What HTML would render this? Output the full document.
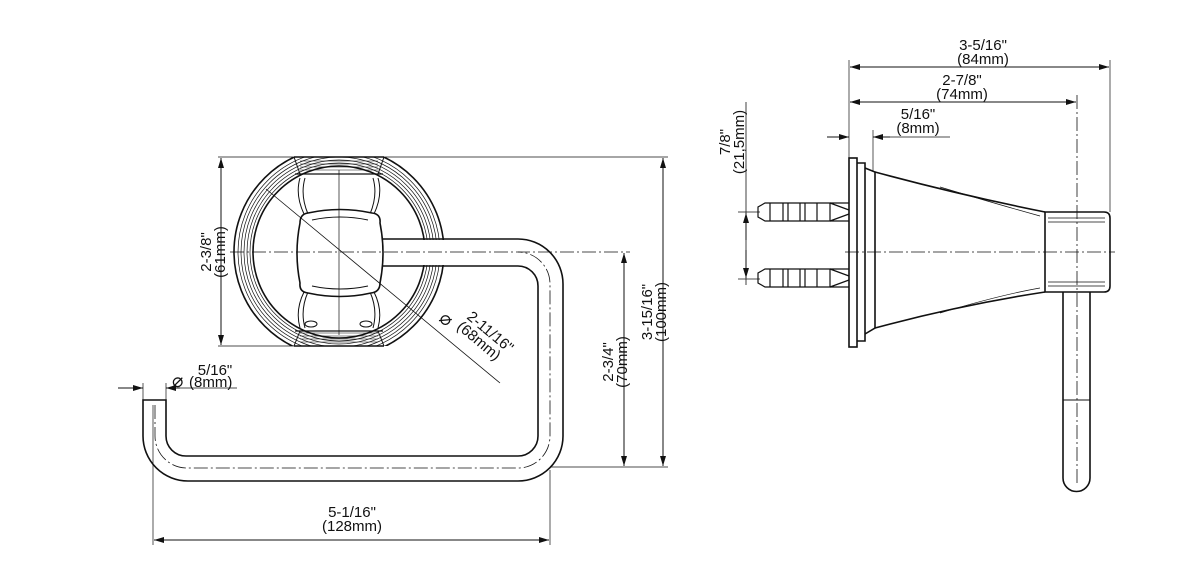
<!DOCTYPE html>
<html><head><meta charset="utf-8"><style>
html,body{margin:0;padding:0;background:#fff;width:1200px;height:576px;overflow:hidden}
svg text{font-family:"Liberation Sans",sans-serif;font-size:15px;fill:#111}
svg text.d{font-size:19px}
</style></head><body>
<svg width="1200" height="576" viewBox="0 0 1200 576" xmlns="http://www.w3.org/2000/svg">
<defs>
<marker id="a" viewBox="0 0 10 6" refX="10" refY="3" markerWidth="10" markerHeight="6" orient="auto-start-reverse" markerUnits="userSpaceOnUse"><path d="M0,0L10,3L0,6Z" fill="#111"/></marker>
<clipPath id="pc"><rect x="220" y="157" width="240" height="189"/></clipPath>
</defs>
<g fill="none" stroke="#111" stroke-width="1">
<!-- ring / towel bar -->
<path d="M380,239 H518 A45,45 0 0 1 563,284 V436 A45,45 0 0 1 518,481 H188 A45,45 0 0 1 143,436 V400 H166 V436 A20,20 0 0 0 186,456 H518 A20,20 0 0 0 538,436 V286 A20,20 0 0 0 518,266 H380" stroke-width="1.6"/>
<path d="M155,405 V436 A32,32 0 0 0 187,468 H518 A32,32 0 0 0 550,436 V284 A32,32 0 0 0 518,252" stroke-dasharray="14,3,2,3" stroke-width="0.8"/>
<!-- plate -->
<g clip-path="url(#pc)">
<circle cx="339" cy="252" r="105" stroke-width="1.6"/>
<circle cx="339" cy="252" r="101" stroke-width="0.7"/>
<circle cx="339" cy="252" r="98" stroke-width="0.7"/>
<circle cx="339" cy="252" r="95" stroke-width="0.7"/>
<circle cx="339" cy="252" r="92" stroke-width="0.7"/>
<circle cx="339" cy="252" r="89" stroke-width="0.7"/>
<circle cx="339" cy="252" r="86" stroke-width="1.6"/>
</g>
<rect x="381" y="240" width="64" height="25" fill="#fff" stroke="none"/>
<line x1="294" y1="157" x2="384" y2="157" stroke-width="1.6"/>
<line x1="294" y1="346" x2="384" y2="346" stroke-width="1.6"/>
<path d="M300,161 H378 M300,164 H378 M300,167 H378 M300,170 H378 M300,339 H378 M300,336 H378 M300,333 H378 M300,342 H378" stroke-width="0.6"/>
<path d="M295,174 H383 M295,331 H383" stroke-width="1.2"/>
<path d="M294,157 L300,174 M384,157 L378,174 M294,346 L300,331 M384,346 L378,331" stroke-width="1"/>
<!-- spokes -->
<path d="M300,178 Q295,195 304,214 M305,178 Q300,195 308,214 M378,178 Q383,195 374,214 M373,178 Q378,195 370,214"/>
<path d="M300,328 Q295,310 304,292 M305,328 Q300,310 308,292 M378,328 Q383,310 374,292 M373,328 Q378,310 370,292"/>
<ellipse cx="311" cy="324" rx="6" ry="3"/><ellipse cx="366" cy="324" rx="6" ry="3"/>
<!-- center square -->
<path d="M308,213 Q340,206 372,213 Q381,214 380,223 Q386,253 380,283 Q380,292 371,293 Q340,300 308,293 Q299,292 300,283 Q294,253 300,223 Q300,214 308,213Z" fill="#fff" stroke-width="1.6"/>
<path d="M312,220 Q340,214 368,220 M312,286 Q340,292 368,286"/>
<!-- center lines -->
<line x1="339" y1="170" x2="339" y2="335" stroke-width="0.7"/>
<line x1="230" y1="252" x2="630" y2="252" stroke-dasharray="14,3,2,3" stroke-width="0.8"/>
<line x1="266" y1="189" x2="500" y2="383" stroke-width="0.8"/>
<!-- dims -->
<line x1="218" y1="157" x2="668" y2="157" stroke-width="0.7"/>
<line x1="218" y1="346" x2="300" y2="346" stroke-width="0.7"/>
<line x1="221" y1="158" x2="221" y2="345" marker-start="url(#a)" marker-end="url(#a)"/>
<line x1="550" y1="467" x2="668" y2="467" stroke-width="0.7"/>
<line x1="663" y1="158" x2="663" y2="466" marker-start="url(#a)" marker-end="url(#a)"/>
<line x1="624" y1="253" x2="624" y2="466" marker-start="url(#a)" marker-end="url(#a)"/>
<line x1="153" y1="405" x2="153" y2="545" stroke-width="0.7"/>
<line x1="550" y1="470" x2="550" y2="545" stroke-width="0.7"/>
<line x1="154" y1="540" x2="549" y2="540" marker-start="url(#a)" marker-end="url(#a)"/>
<line x1="143" y1="383" x2="143" y2="400" stroke-width="0.7"/>
<line x1="166" y1="383" x2="166" y2="400" stroke-width="0.7"/>
<line x1="118" y1="388" x2="143" y2="388" marker-end="url(#a)"/>
<line x1="166" y1="388" x2="237" y2="388" stroke-width="0.8"/>
<line x1="180" y1="388" x2="166" y2="388" marker-end="url(#a)"/>

<!-- RIGHT VIEW -->
<rect x="849" y="158" width="8" height="189" stroke-width="1.6"/>
<path d="M857,163 H865 V341 H857" stroke-width="1.6"/>
<path d="M865,168 L875,172 V328 L865,334" stroke-width="1.6"/>
<path d="M875,172 Q960,195 1045,212 M875,328 Q960,305 1045,292" stroke-width="1.6"/>
<path d="M940,187 Q1000,205 1040,216 M940,313 Q1000,295 1040,288" stroke-width="0.7"/>
<path d="M1045,212 H1104 Q1110,212 1110,218 V286 Q1110,292 1104,292 H1045 Z" stroke-width="1.6"/>
<path d="M1048,218 H1105 M1048,222 H1105 M1048,282 H1105 M1048,286 H1105" stroke-width="0.7"/>
<path d="M1063,292 V478 A13.5,13.5 0 0 0 1090,478 V292" stroke-width="1.6"/>
<line x1="1063" y1="400" x2="1090" y2="400"/>
<line x1="1077" y1="95" x2="1077" y2="485" stroke-dasharray="14,3,2,3" stroke-width="0.8"/>
<line x1="845" y1="252" x2="1115" y2="252" stroke-dasharray="14,3,2,3" stroke-width="0.8"/>
<g stroke-width="1.2">
<path d="M765,203 H830 V221 H765 L758,217 V207 Z"/>
<path d="M770,203V221 M783,203V221 M788,203V221 M800,203V221 M805,203V221 M817,203V221 M830,203 L849,210 M830,221 L849,214 M830,203 L849,203 M830,221 L849,221"/>
<path d="M765,269 H830 V287 H765 L758,283 V273 Z"/>
<path d="M770,269V287 M783,269V287 M788,269V287 M800,269V287 M805,269V287 M817,269V287 M830,269 L849,276 M830,287 L849,280 M830,269 L849,269 M830,287 L849,287"/>
</g>
<line x1="738" y1="212" x2="760" y2="212" stroke-width="0.7"/>
<line x1="738" y1="279" x2="760" y2="279" stroke-width="0.7"/>
<line x1="746" y1="102" x2="746" y2="285" stroke-width="0.8"/>
<line x1="746" y1="213" x2="746" y2="240" marker-start="url(#a)"/>
<line x1="746" y1="250" x2="746" y2="278" marker-end="url(#a)"/>
<line x1="849" y1="60" x2="849" y2="158" stroke-width="0.7"/>
<line x1="1110" y1="60" x2="1110" y2="212" stroke-width="0.7"/>
<line x1="873" y1="130" x2="873" y2="172" stroke-width="0.7"/>
<line x1="850" y1="67" x2="1109" y2="67" marker-start="url(#a)" marker-end="url(#a)"/>
<line x1="850" y1="102" x2="1076" y2="102" marker-start="url(#a)" marker-end="url(#a)"/>
<line x1="827" y1="137" x2="849" y2="137" marker-end="url(#a)"/>
<line x1="873" y1="137" x2="950" y2="137" stroke-width="0.8"/>
<line x1="890" y1="137" x2="873" y2="137" marker-end="url(#a)"/>
</g>
<text transform="translate(211,252) rotate(-90)" text-anchor="middle">2-3/8"</text>
<text transform="translate(225,252) rotate(-90)" text-anchor="middle">(61mm)</text>
<text transform="translate(652,312) rotate(-90)" text-anchor="middle">3-15/16"</text>
<text transform="translate(666,312) rotate(-90)" text-anchor="middle">(100mm)</text>
<text transform="translate(613,362) rotate(-90)" text-anchor="middle">2-3/4"</text>
<text transform="translate(627,362) rotate(-90)" text-anchor="middle">(70mm)</text>
<text x="352" y="517" text-anchor="middle">5-1/16"</text>
<text x="352" y="531" text-anchor="middle">(128mm)</text>
<text x="215" y="375" text-anchor="middle">5/16"</text>
<text class="d" x="172" y="387">⌀</text><text x="189" y="387">(8mm)</text>
<text class="d" transform="translate(438,320) rotate(40)">⌀</text>
<text transform="translate(466,318) rotate(40)">2-11/16"</text>
<text transform="translate(456,328) rotate(40)">(68mm)</text>
<text transform="translate(730,142) rotate(-90)" text-anchor="middle">7/8"</text>
<text transform="translate(744,142) rotate(-90)" text-anchor="middle">(21,5mm)</text>
<text x="983" y="50" text-anchor="middle">3-5/16"</text>
<text x="983" y="64" text-anchor="middle">(84mm)</text>
<text x="962" y="85" text-anchor="middle">2-7/8"</text>
<text x="962" y="99" text-anchor="middle">(74mm)</text>
<text x="918" y="119" text-anchor="middle">5/16"</text>
<text x="918" y="133" text-anchor="middle">(8mm)</text>
</svg>
</body></html>
